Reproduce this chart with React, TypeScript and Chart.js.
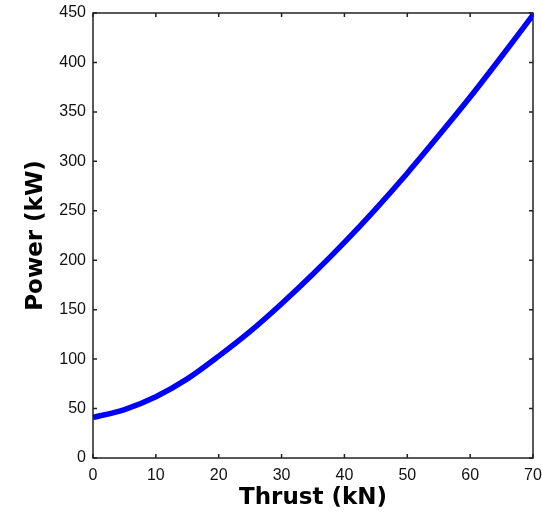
import React, { useEffect, useRef } from "react";
import { Chart, registerables } from "chart.js";

Chart.register(...registerables);

const thrustKN = [0, 5, 10, 15, 20, 25, 30, 35, 40, 45, 50, 55, 60, 65, 70];
const powerKW = [41, 49, 62, 80, 103, 128, 156, 186, 218, 252, 288, 326, 365, 406, 448];
const xTitle = "Thrust (kN)";
const yTitle = "Power (kW)";

const framePlugin = {
  id: "frame",
  beforeDatasetsDraw(chart: any) {
    const { ctx, chartArea, scales } = chart;
    const { left, right, top, bottom } = chartArea;
    const x = scales.x;
    const y = scales.y;
    ctx.save();
    ctx.strokeStyle = "#222";
    ctx.lineWidth = 1.5;
    ctx.strokeRect(left, top, right - left, bottom - top);
    const tl = 4;
    ctx.beginPath();
    x.ticks.forEach((t: any) => {
      const px = x.getPixelForValue(t.value);
      ctx.moveTo(px, bottom);
      ctx.lineTo(px, bottom - tl);
      ctx.moveTo(px, top);
      ctx.lineTo(px, top + tl);
    });
    y.ticks.forEach((t: any) => {
      const py = y.getPixelForValue(t.value);
      ctx.moveTo(left, py);
      ctx.lineTo(left + tl, py);
      ctx.moveTo(right, py);
      ctx.lineTo(right - tl, py);
    });
    ctx.stroke();
    ctx.restore();
  },
};

export default function App() {
  const ref = useRef<HTMLCanvasElement>(null);
  useEffect(() => {
    if (!ref.current) return;
    const chart = new Chart(ref.current, {
      type: "line",
      data: {
        datasets: [
          {
            data: thrustKN.map((t, i) => ({ x: t, y: powerKW[i] })),
            borderColor: "#0000ff",
            borderWidth: 5.5,
            pointRadius: 0,
            cubicInterpolationMode: "monotone",
            fill: false,
          },
        ],
      },
      options: {
        responsive: false,
        animation: false,
        layout: { padding: { left: 0, top: 13, right: 9, bottom: 0 } },
        plugins: { legend: { display: false }, tooltip: { enabled: false } },
        scales: {
          x: {
            type: "linear",
            min: 0,
            max: 70,
            ticks: {
              stepSize: 10,
              padding: 8,
              color: "#111",
              font: { family: "'Liberation Sans', Arial", size: 16 },
              maxRotation: 0,
            },
            grid: { display: false, drawTicks: false },
            border: { display: false },
            title: {
              display: true,
              text: xTitle,
              color: "#000",
              font: { family: "'DejaVu Sans'", size: 23, weight: "bold" },
              padding: { top: 0, bottom: 5 },
            },
            afterFit: (s: any) => {
              s.height = 59;
              s.paddingLeft = 0;
              s.paddingRight = 0;
            },
          },
          y: {
            type: "linear",
            min: 0,
            max: 450,
            ticks: {
              stepSize: 50,
              padding: 7,
              color: "#111",
              font: { family: "'Liberation Sans', Arial", size: 16 },
            },
            grid: { display: false, drawTicks: false },
            border: { display: false },
            title: {
              display: true,
              text: yTitle,
              color: "#000",
              font: { family: "'DejaVu Sans'", size: 23, weight: "bold" },
              padding: { top: 22, bottom: 0 },
            },
            afterFit: (s: any) => {
              s.width = 93;
              s.paddingTop = 0;
              s.paddingBottom = 0;
            },
          },
        },
      },
      plugins: [framePlugin],
    });
    return () => chart.destroy();
  }, []);
  return (
    <div style={{ position: "fixed", left: 0, top: 0, width: 542, height: 517, background: "#fff" }}>
      <canvas ref={ref} width={542} height={517} />
    </div>
  );
}
